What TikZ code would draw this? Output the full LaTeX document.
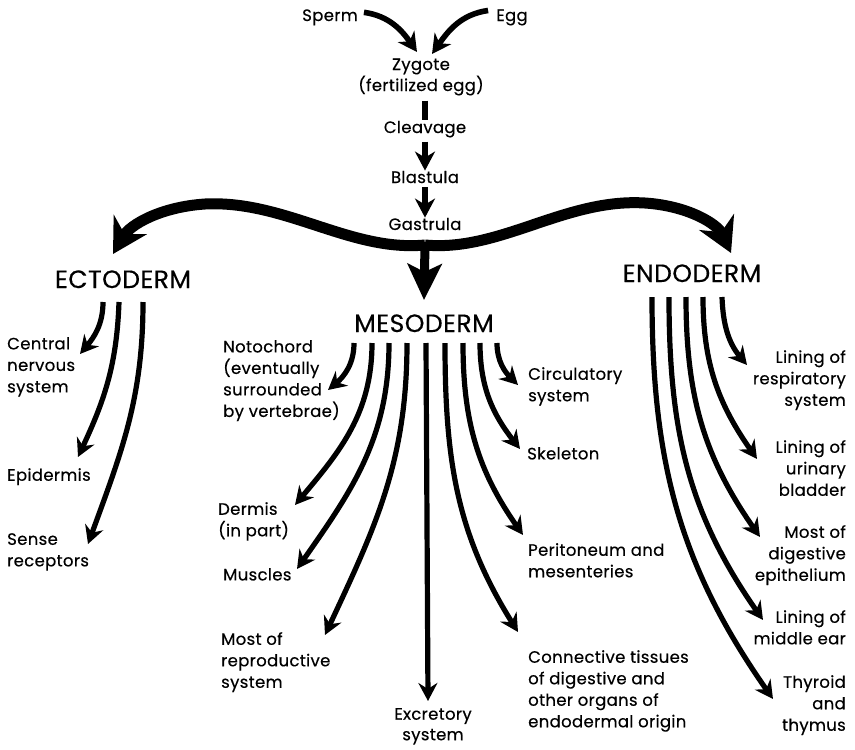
\documentclass[tikz,border=0pt]{standalone}
\usepackage{fontspec}
\setmainfont{Poppins}[LetterSpace=2, FakeBold=0.4]
\usetikzlibrary{arrows.meta}

\tikzset{
  lbl/.style={inner sep=0pt, font=\fontsize{16.5}{21.5}\selectfont},
  germ/.style={inner sep=0pt, font=\fontsize{25}{28}\selectfont},
  branch/.style={line width=5.2pt, -{Stealth[length=18pt, width=19pt, inset=6pt]}},
  stage/.style={line width=5.6pt, -{Stealth[length=19pt, width=20pt, inset=6pt]}},
  fork/.style={line width=11pt, -{Stealth[length=34pt, width=38pt, inset=11pt]}}
}

\begin{document}
\begin{tikzpicture}[x=1pt, y=-1pt]
\useasboundingbox (0,0) rectangle (855,750);
% the line from the gametes down to the gastrula
\node[lbl, anchor=base] (sperm) at (330,21) {Sperm};
\node[lbl, anchor=base] (egg) at (512,21) {Egg};
\node[lbl, anchor=base] (zygote) at (421,70) {Zygote};
\node[lbl, anchor=base] (fert) at (421,91) {(fertilized egg)};
\node[lbl, anchor=base] (cleav) at (425,133) {Cleavage};
\node[lbl, anchor=base] (blast) at (425,183) {Blastula};
\node[lbl, anchor=base] (gastr) at (425,230) {Gastrula};
\draw[stage] (sperm.east) ++(6,-5) to[out=-8, in=125] (417,52);
\draw[stage] (egg.west) ++(-8,-7) to[out=188, in=55] (432,54);
\draw[line width=5.5pt] (fert.south) ++(4,5) -- ++(0,19);
\draw[stage] (cleav.south) ++(0,4) -- (blast.north);
\draw[stage] (blast.south) ++(0,4) -- (gastr.north);
% the three germ layers
\node[germ, anchor=base] (ecto) at (123,288) {ECTODERM};
\node[germ, anchor=base] (meso) at (424,332) {MESODERM};
\node[germ, anchor=base] (endo) at (692,282) {ENDODERM};
\coordinate (split) at (425,245);
\draw[fork] (split) .. controls (350,252) and (285,200) .. (205,204)
  .. controls (160,207) and (130,225) .. (113,254);
\draw[fork] (split) .. controls (500,252) and (565,198) .. (645,203)
  .. controls (690,206) and (718,225) .. (731,253);
\draw[line width=9pt, -{Stealth[length=36pt, width=34pt, inset=8pt]}] (split) -- (424,300);
% ectoderm branches
\node[lbl, anchor=north west, align=left] (cns) at (7,337) {Central\\nervous\\system};
\node[lbl, anchor=north west] (epid) at (7,468) {Epidermis};
\node[lbl, anchor=north west, align=left] (sense) at (7,533) {Sense\\receptors};
\coordinate (e1) at (103,302);
\coordinate (e2) at (119,302);
\coordinate (e3) at (143,302);
\draw[branch] (e1) to[out=-90, in=50] (80,354);
\draw[branch] (e2) to[out=-92, in=65] (78,457);
\draw[branch] (e3) to[out=-90, in=70] (88,544);
% mesoderm branches
\node[lbl, anchor=north west, align=left] (noto) at (223,340) {Notochord\\(eventually\\surrounded\\by vertebrae)};
\node[lbl, anchor=north west, align=left] (derm) at (218,502) {Dermis\\(in part)};
\node[lbl, anchor=north west] (musc) at (223,568) {Muscles};
\node[lbl, anchor=north west, align=left] (repro) at (221,632) {Most of\\reproductive\\system};
\node[lbl, anchor=north, align=center, font=\fontsize{16.5}{20.5}\selectfont] (excr) at (433,708) {Excretory\\system};
\node[lbl, anchor=north west, align=left] (circ) at (528,367) {Circulatory\\system};
\node[lbl, anchor=north west] (skel) at (527,447) {Skeleton};
\node[lbl, anchor=north west, align=left] (perit) at (528,543) {Peritoneum and\\mesenteries};
\node[lbl, anchor=north west, align=left] (conn) at (528,650) {Connective tissues\\of digestive and\\other organs of\\endodermal origin};
\coordinate (m1) at (354,343);
\coordinate (m2) at (372,343);
\coordinate (m3) at (389,343);
\coordinate (m4) at (407,343);
\coordinate (m5) at (426,343);
\coordinate (m6) at (445,343);
\coordinate (m7) at (463,343);
\coordinate (m8) at (480,343);
\coordinate (m9) at (497,343);
\coordinate (m5tip) at (428,701);
\draw[branch] (m1) to[out=-90, in=40] (328,390);
\draw[branch] (m2) to[out=-90, in=50] (295,505);
\draw[branch] (m3) to[out=-90, in=55] (297,569);
\draw[branch] (m4) to[out=-90, in=65] (325,635);
\draw[branch] (m5) -- (m5tip);
\draw[branch] (m6) to[out=-90, in=122] (518,632);
\draw[branch] (m7) to[out=-90, in=125] (523,535);
\draw[branch] (m8) to[out=-90, in=128] (520,449);
\draw[branch] (m9) to[out=-90, in=135] (518,385);
% endoderm branches
\node[lbl, anchor=north east, align=right] (resp) at (846,350) {Lining of\\respiratory\\system};
\node[lbl, anchor=north east, align=right] (urin) at (846,440) {Lining of\\urinary\\bladder};
\node[lbl, anchor=north east, align=right] (dige) at (846,525) {Most of\\digestive\\epithelium};
\node[lbl, anchor=north east, align=right] (ear) at (846,610) {Lining of\\middle ear};
\node[lbl, anchor=north east, align=right] (thyr) at (846,675) {Thyroid\\and\\thymus};
\coordinate (n1) at (722,297);
\coordinate (n2) at (703,297);
\coordinate (n3) at (686,297);
\coordinate (n4) at (669,297);
\coordinate (n5) at (652,297);
\draw[branch] (n1) to[out=-88, in=130] (747,365);
\draw[branch] (n2) to[out=-90, in=125] (757,459);
\draw[branch] (n3) to[out=-90, in=125] (760,537);
\draw[branch] (n4) to[out=-90, in=125] (763,620);
\draw[branch] (n5) to[out=-90, in=125] (773,699);
\end{tikzpicture}
\end{document}
